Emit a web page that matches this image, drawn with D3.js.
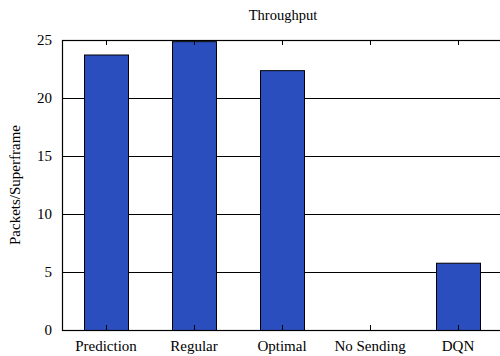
<!DOCTYPE html>
<html><head><meta charset="utf-8">
<script src="https://cdn.jsdelivr.net/npm/d3@7"></script>
<style>body{margin:0;background:#fff}svg{display:block}text{font-family:"Liberation Serif","DejaVu Serif",serif;fill:#000}</style>
</head><body><svg id="c" width="500" height="356"></svg>
<script>
const categories = ["Prediction","Regular","Optimal","No Sending","DQN"];
const values = [23.75, 24.9, 22.4, 0, 5.8];
const yTicks = [0,5,10,15,20,25];
const title = "Throughput";
const yLabel = "Packets/Superframe";

const svg = d3.select("#c");
const L = 62, T = 40, R = 502, B = 330;
const x = d3.scaleBand().domain(categories).range([L, R]).paddingInner(0).paddingOuter(0);
const y = d3.scaleLinear().domain([0,25]).range([B, T]);

// gridlines
svg.append("g").selectAll("line").data(yTicks.filter(t=>t>0&&t<25)).join("line")
  .attr("x1", L).attr("x2", R).attr("y1", d=>y(d)).attr("y2", d=>y(d))
  .attr("stroke","#000").attr("stroke-width",1).attr("shape-rendering","crispEdges");

// bars
const bw = x.bandwidth()/2;
svg.append("g").selectAll("rect").data(categories.map((c,i)=>({c,v:values[i]})).filter(d=>d.v>0)).join("rect")
  .attr("x", d=>x(d.c)+x.bandwidth()/2-bw/2+0.5).attr("width", bw)
  .attr("y", d=>y(d.v)+0.5).attr("height", d=>y(0)-y(d.v))
  .attr("fill","#2a4ebe").attr("stroke","#000").attr("stroke-width",1);

// frame
svg.append("rect").attr("x",L+0.5).attr("y",T+0.5).attr("width",R-L).attr("height",B-T)
  .attr("fill","none").attr("stroke","#000").attr("stroke-width",1.2);

// top ticks and bottom ticks
const cx = categories.map(c=>x(c)+x.bandwidth()/2);
svg.append("g").selectAll("line").data(cx).join("line")
  .attr("x1",d=>Math.round(d)+0.5).attr("x2",d=>Math.round(d)+0.5).attr("y1",T).attr("y2",T+5)
  .attr("stroke","#000");
svg.append("g").selectAll("line").data(cx).join("line")
  .attr("x1",d=>Math.round(d)+0.5).attr("x2",d=>Math.round(d)+0.5).attr("y1",B).attr("y2",B-5)
  .attr("stroke","#000");

// y tick labels
svg.append("g").selectAll("text").data(yTicks).join("text")
  .attr("x",52).attr("y",d=>y(d)+5).attr("text-anchor","end").attr("font-size",15).text(d=>d);

// x labels
svg.append("g").selectAll("text").data(categories).join("text")
  .attr("x",(d,i)=>cx[i]).attr("y",351).attr("text-anchor","middle").attr("font-size",15).text(d=>d);

svg.append("text").attr("x",283).attr("y",20).attr("text-anchor","middle").attr("font-size",14.5).text(title);
svg.append("text").attr("transform","translate(20,185) rotate(-90)").attr("text-anchor","middle").attr("font-size",15).text(yLabel);
</script></body></html>
